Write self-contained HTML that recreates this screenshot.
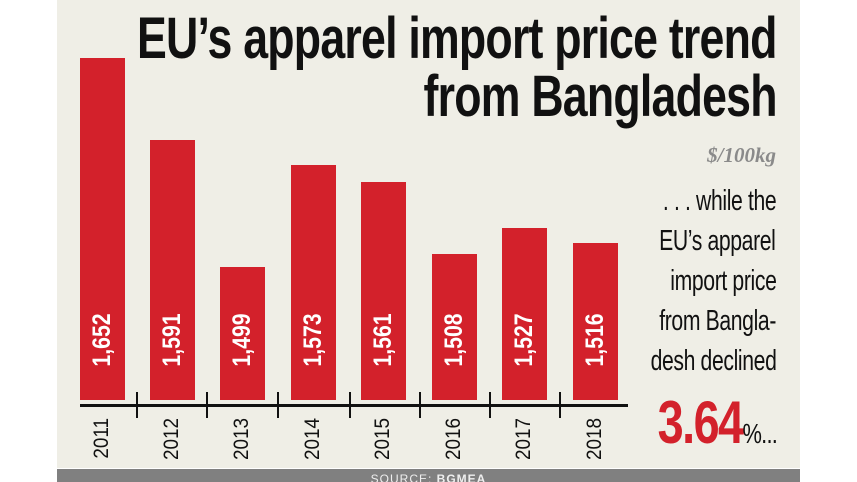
<!DOCTYPE html>
<html><head><meta charset="utf-8"><style>
body{margin:0;width:857px;height:482px;background:#fff;position:relative;overflow:hidden;font-family:"Liberation Sans",sans-serif}
.bg{position:absolute;left:57px;top:0;width:743px;height:468px;background:#efeee6}
.src{position:absolute;left:57px;top:469px;width:743px;height:13px;background:#808080;color:#eee;font:12px "Liberation Sans",sans-serif;text-align:center;line-height:20px;overflow:hidden;letter-spacing:1px}
.t{position:absolute;right:80px;text-align:right;font-weight:bold;color:#111;white-space:nowrap;transform-origin:right center;transform:scaleX(0.77)}
.bar{position:absolute;width:45px;background:#d3212b;bottom:82px}
.bl{position:absolute;color:#fff;font-weight:bold;font-size:25px;transform:rotate(-90deg) scaleX(0.85);transform-origin:center;width:80px;text-align:center;line-height:30px}
.yr{position:absolute;font-size:21px;color:#111;transform:rotate(-90deg) scaleX(0.9);transform-origin:left top;width:60px;text-align:right;line-height:24px}
.tick{position:absolute;width:2px;background:#111;top:392px;height:26px}
.s{position:absolute;right:81px;font-size:29px;color:#111;white-space:nowrap;letter-spacing:-0.5px;transform:scaleX(0.73);transform-origin:right center}
</style></head><body>
<div class="bg"></div>
<div class="t" style="top:8px;font-size:58px;line-height:62px;letter-spacing:-1px">EU’s apparel import price trend</div>
<div class="t" style="top:66px;font-size:58px;line-height:62px;letter-spacing:-1px">from Bangladesh</div>
<div style="position:absolute;right:81px;top:143px;font:italic bold 21px 'Liberation Serif',serif;color:#8a8a8a">$/100kg</div>
<div class="s" style="top:185px">. . . while the</div>
<div class="s" style="top:225px">EU’s apparel</div>
<div class="s" style="top:265px">import price</div>
<div class="s" style="top:305px">from Bangla-</div>
<div class="s" style="top:345px">desh declined</div>
<div style="position:absolute;right:80px;top:392px;white-space:nowrap;color:#d3212b;font-weight:bold;font-size:60px;line-height:62px;letter-spacing:-2px;transform:scaleX(0.78);transform-origin:right center">3.64<span style="color:#111;font-weight:normal;font-size:28px;letter-spacing:-1px">%...</span></div>

<div class="bar" style="left:80px;top:58px"></div>
<div class="bar" style="left:150px;top:140px"></div>
<div class="bar" style="left:220px;top:267px"></div>
<div class="bar" style="left:291px;top:165px"></div>
<div class="bar" style="left:361px;top:182px"></div>
<div class="bar" style="left:432px;top:254px"></div>
<div class="bar" style="left:502px;top:228px"></div>
<div class="bar" style="left:573px;top:243px"></div>

<div class="bl" style="left:62px;top:325px">1,652</div>
<div class="bl" style="left:132px;top:325px">1,591</div>
<div class="bl" style="left:202px;top:325px">1,499</div>
<div class="bl" style="left:273px;top:325px">1,573</div>
<div class="bl" style="left:343px;top:325px">1,561</div>
<div class="bl" style="left:414px;top:325px">1,508</div>
<div class="bl" style="left:484px;top:325px">1,527</div>
<div class="bl" style="left:555px;top:325px">1,516</div>

<div style="position:absolute;left:80px;top:404px;width:548px;height:3px;background:#111"></div>
<div class="tick" style="left:136px"></div>
<div class="tick" style="left:206px"></div>
<div class="tick" style="left:277px"></div>
<div class="tick" style="left:349px"></div>
<div class="tick" style="left:419px"></div>
<div class="tick" style="left:489px"></div>
<div class="tick" style="left:559px"></div>

<div class="yr" style="left:90px;top:472px">2011</div>
<div class="yr" style="left:160px;top:472px">2012</div>
<div class="yr" style="left:230px;top:472px">2013</div>
<div class="yr" style="left:301px;top:472px">2014</div>
<div class="yr" style="left:371px;top:472px">2015</div>
<div class="yr" style="left:442px;top:472px">2016</div>
<div class="yr" style="left:512px;top:472px">2017</div>
<div class="yr" style="left:583px;top:472px">2018</div>

<div class="src">SOURCE: <b>BGMEA</b></div>
</body></html>
